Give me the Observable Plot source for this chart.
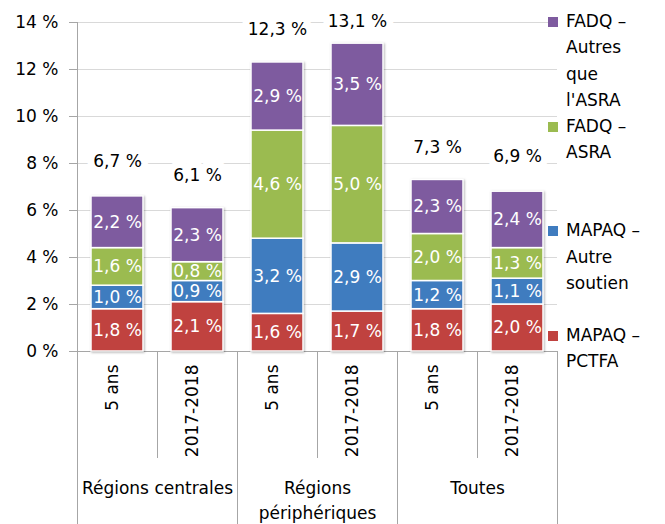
<!DOCTYPE html>
<html><head><meta charset="utf-8">
<script src="https://cdn.jsdelivr.net/npm/d3@7"></script>
<script src="https://cdn.jsdelivr.net/npm/@observablehq/plot@0.6"></script>
<style>
body{margin:0;background:#fff;font-family:"DejaVu Sans",sans-serif}
#wrap{position:relative;width:665px;height:524px;overflow:hidden}
#legend{position:absolute;left:548px;top:8px;font-size:17px;color:#000;font-family:"DejaVu Sans",sans-serif}
.item{height:104.7px;display:flex;align-items:flex-start}
.sw{width:10px;height:10px;margin-top:9px;margin-right:8px;flex:none}
.lbl{line-height:26.4px;white-space:nowrap}
svg g[aria-label=bar]{filter:drop-shadow(1.5px 1.5px 1px rgba(0,0,0,0.28))}
</style></head><body>
<div id="wrap"><div id="legend"></div></div>
<script>
const groups = ["Régions centrales", "Régions\npériphériques", "Toutes"];
const periods = ["5 ans", "2017-2018"];
const series = ["MAPAQ – PCTFA", "MAPAQ – Autre soutien", "FADQ – ASRA", "FADQ – Autres que l'ASRA"];
const pctfa = [1.8, 2.1, 1.6, 1.7, 1.8, 2.0];
const autreSoutien = [1.0, 0.9, 3.2, 2.9, 1.2, 1.1];
const asra = [1.6, 0.8, 4.6, 5.0, 2.0, 1.3];
const autresQueAsra = [2.2, 2.3, 2.9, 3.5, 2.3, 2.4];
const totals = [6.7, 6.1, 12.3, 13.1, 7.3, 6.9];
const yTicks = [0, 2, 4, 6, 8, 10, 12, 14];
const colors = ["#c0423f", "#3f7cbf", "#9bbb50", "#7e5b9f"];
const legendLines = [["MAPAQ –", "PCTFA"], ["MAPAQ –", "Autre", "soutien"], ["FADQ –", "ASRA"], ["FADQ –", "Autres", "que", "l'ASRA"]];

const seriesValues = [pctfa, autreSoutien, asra, autresQueAsra];
const fmt = v => v.toFixed(1).replace(".", ",") + " %";

const bars = groups.flatMap((g, gi) => periods.map((p, pi) => {
  const i = gi * periods.length + pi;
  return {key: g + "|" + p, group: g, period: p, total: totals[i], i};
}));
const keys = bars.map(b => b.key);
const rows = bars.flatMap(b => series.map((s, si) => ({key: b.key, series: s, value: seriesValues[si][b.i]})));
const groupFirst = groups.map((g, gi) => ({group: g, key: keys[gi * periods.length]}));

const grey = "#a6a6a6";
const font = "'DejaVu Sans', sans-serif";
const fs = 17;
const chart = Plot.plot({
  width: 665, height: 524,
  marginLeft: 77, marginRight: 108, marginTop: 22, marginBottom: 173,
  style: {fontFamily: font, fontSize: fs + "px", color: "#000", background: "#fff", overflow: "visible"},
  x: {domain: keys, paddingInner: 0.35, paddingOuter: 0.175, axis: null},
  y: {domain: [0, 14], axis: null},
  color: {domain: series, range: colors},
  marks: [
    Plot.gridY(yTicks, {stroke: "#d9d9d9", strokeOpacity: 1}),
    Plot.axisY(yTicks, {tickSize: 8, tickPadding: 11, tickFormat: d => d + " %", stroke: grey, fill: "#000", fontSize: fs, label: null}),
    Plot.ruleY([0], {stroke: grey}),
    // vertical axis line + leftmost separator
    Plot.ruleX([keys[0]], {dx: -40, insetBottom: -173, stroke: grey}),
    // group separators
    Plot.ruleX([keys[2], keys[4]], {dx: -40, insetTop: 329, insetBottom: -173, stroke: grey}),
    Plot.ruleX([keys[5]], {dx: 40, insetTop: 329, insetBottom: -173, stroke: grey}),
    // period separators
    Plot.ruleX([keys[1], keys[3], keys[5]], {dx: -40, insetTop: 329, insetBottom: -107, stroke: grey}),
    Plot.barY(rows, {x: "key", y: "value", fill: "series", stroke: "white", strokeWidth: 1.5}),
    Plot.text(rows, Plot.stackY({x: "key", y: "value", text: d => fmt(d.value), fill: "white", fontSize: fs})),
    Plot.text(bars, {x: "key", y: b => Math.min(b.total + 1.4, 14.05), text: b => fmt(b.total), fill: "#000", stroke: "white", strokeWidth: 14, strokeLinejoin: "round", fontSize: fs}),
    Plot.text(bars, {x: "key", frameAnchor: "bottom", text: "period", rotate: -90, textAnchor: "end", dy: 13, fontSize: fs, fill: "#000"}),
    Plot.text(groupFirst, {x: "key", dx: 40, frameAnchor: "bottom", text: "group", lineAnchor: "top", dy: 125, lineHeight: 1.47, fontSize: fs, fill: "#000"})
  ]
});
const wrap = document.getElementById("wrap");
wrap.insertBefore(chart, wrap.firstChild);

const legend = document.getElementById("legend");
for (let si = series.length - 1; si >= 0; si--) {
  const item = document.createElement("div");
  item.className = "item";
  const sw = document.createElement("div");
  sw.className = "sw";
  sw.style.background = colors[si];
  const lbl = document.createElement("div");
  lbl.className = "lbl";
  lbl.innerHTML = legendLines[si].map(t => t.replace(/&/g, "&amp;").replace(/</g, "&lt;")).join("<br>");
  item.appendChild(sw);
  item.appendChild(lbl);
  legend.appendChild(item);
}
</script>
</body></html>
